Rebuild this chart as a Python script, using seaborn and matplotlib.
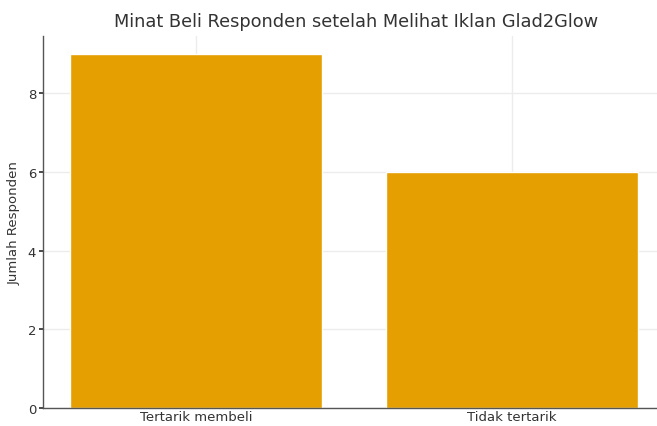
import matplotlib
matplotlib.use("Agg")
import matplotlib.pyplot as plt
import seaborn as sns
import pandas as pd

categories = ["Tertarik membeli", "Tidak tertarik"]
counts = [9, 6]
title = "Minat Beli Responden setelah Melihat Iklan Glad2Glow"
ylabel = "Jumlah Responden"

sns.set_theme(style="whitegrid")
plt.rcParams['font.family'] = ['DejaVu Sans']
plt.rcParams['grid.color'] = '#ececec'

df = pd.DataFrame({"Kategori": categories, "Jumlah": counts})

fig = plt.figure(figsize=(6.57, 4.27), dpi=100)
ax = fig.add_axes([0.0654, 0.0422, 0.953, 0.871])
sns.barplot(data=df, x="Kategori", y="Jumlah", color="#E69F00", saturation=1,
            width=0.8, ax=ax)
ax.set_xlim(-0.484, 1.497)
ax.set_ylim(0, 9.45)
ax.set_yticks([0, 2, 4, 6, 8])
ax.xaxis.grid(True)
ax.yaxis.grid(True)
ax.set_title(title, fontsize=12.8, color="#333333", pad=7)
ax.set_xlabel("")
ax.set_ylabel(ylabel, fontsize=9.5, color="#333333", labelpad=5)
ax.tick_params(axis='y', labelsize=9.5, colors="#333333", length=3, pad=2, left=True)
ax.tick_params(axis='x', labelsize=9.5, colors="#333333", length=0, pad=1.5)
for s in ["top", "right"]:
    ax.spines[s].set_visible(False)
for s in ["left", "bottom"]:
    ax.spines[s].set_color("#555555")
    ax.spines[s].set_linewidth(1.0)
ax.set_axisbelow(True)
fig.savefig("out.png", dpi=100)
